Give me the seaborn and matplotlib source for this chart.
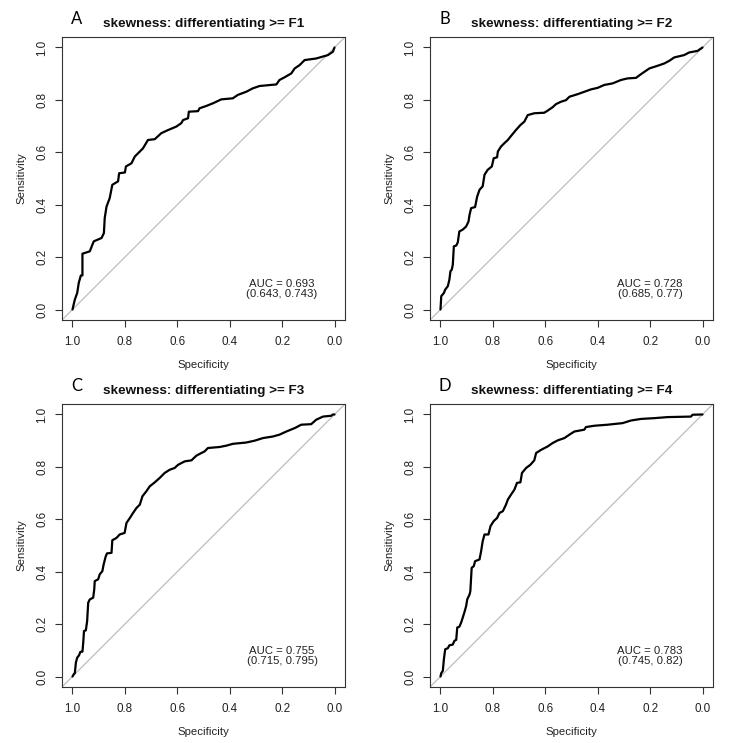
import matplotlib
matplotlib.use("Agg")
import matplotlib.pyplot as plt
import seaborn as sns
import pandas as pd

# ---------------- data ----------------
panel_letters = ["A", "B", "C", "D"]
panel_titles = ["skewness: differentiating >= F1",
                "skewness: differentiating >= F2",
                "skewness: differentiating >= F3",
                "skewness: differentiating >= F4"]
auc_text = ["AUC = 0.693\n(0.643, 0.743)",
            "AUC = 0.728\n(0.685, 0.77)",
            "AUC = 0.755\n(0.715, 0.795)",
            "AUC = 0.783\n(0.745, 0.82)"]

spec_A = [1.000, 0.991, 0.982, 0.976, 0.968, 0.962, 0.962, 0.934, 0.919, 0.889,
          0.880, 0.877, 0.870, 0.858, 0.848, 0.826, 0.822, 0.800, 0.796, 0.775,
          0.762, 0.746, 0.731, 0.712, 0.686, 0.661, 0.635, 0.604, 0.585, 0.578,
          0.559, 0.556, 0.521, 0.515, 0.489, 0.464, 0.432, 0.388, 0.369, 0.337,
          0.312, 0.286, 0.222, 0.210, 0.191, 0.165, 0.152, 0.133, 0.114, 0.070,
          0.025, 0.006, 0.000]
sens_A = [0.000, 0.038, 0.063, 0.102, 0.130, 0.130, 0.213, 0.222, 0.260, 0.273,
          0.292, 0.349, 0.393, 0.425, 0.476, 0.489, 0.520, 0.523, 0.546, 0.558,
          0.584, 0.600, 0.615, 0.647, 0.650, 0.673, 0.685, 0.698, 0.711, 0.723,
          0.730, 0.755, 0.757, 0.768, 0.777, 0.787, 0.802, 0.806, 0.819, 0.831,
          0.844, 0.853, 0.859, 0.876, 0.886, 0.901, 0.920, 0.933, 0.952, 0.958,
          0.971, 0.984, 1.000]

spec_B = [1.000, 0.997, 0.987, 0.982, 0.972, 0.966, 0.962, 0.957, 0.953, 0.949,
          0.940, 0.934, 0.928, 0.915, 0.902, 0.893, 0.889, 0.883, 0.868, 0.860,
          0.851, 0.839, 0.832, 0.820, 0.804, 0.797, 0.784, 0.781, 0.769, 0.756,
          0.743, 0.731, 0.712, 0.695, 0.680, 0.667, 0.642, 0.604, 0.591, 0.572,
          0.559, 0.540, 0.521, 0.508, 0.476, 0.451, 0.426, 0.400, 0.375, 0.343,
          0.311, 0.286, 0.254, 0.235, 0.203, 0.172, 0.146, 0.127, 0.108, 0.070,
          0.051, 0.019, 0.000]
sens_B = [0.000, 0.051, 0.063, 0.076, 0.089, 0.114, 0.146, 0.152, 0.171, 0.241,
          0.244, 0.256, 0.298, 0.305, 0.317, 0.336, 0.362, 0.387, 0.391, 0.431,
          0.457, 0.470, 0.514, 0.533, 0.546, 0.577, 0.581, 0.603, 0.622, 0.635,
          0.647, 0.662, 0.685, 0.704, 0.717, 0.742, 0.749, 0.751, 0.759, 0.772,
          0.784, 0.793, 0.799, 0.812, 0.822, 0.831, 0.840, 0.846, 0.857, 0.863,
          0.876, 0.882, 0.884, 0.898, 0.920, 0.930, 0.939, 0.949, 0.962, 0.971,
          0.981, 0.987, 1.000]

spec_C = [1.000, 0.995, 0.991, 0.987, 0.982, 0.975, 0.970, 0.962, 0.959, 0.956,
          0.949, 0.944, 0.940, 0.934, 0.921, 0.917, 0.915, 0.902, 0.896, 0.886,
          0.881, 0.873, 0.868, 0.851, 0.848, 0.832, 0.820, 0.801, 0.794, 0.781,
          0.769, 0.756, 0.743, 0.733, 0.718, 0.705, 0.686, 0.667, 0.648, 0.629,
          0.610, 0.597, 0.572, 0.546, 0.527, 0.508, 0.496, 0.483, 0.438, 0.413,
          0.388, 0.337, 0.305, 0.273, 0.235, 0.210, 0.184, 0.152, 0.127, 0.089,
          0.070, 0.044, 0.013, 0.006, 0.000]
sens_C = [0.000, 0.009, 0.013, 0.053, 0.072, 0.081, 0.094, 0.095, 0.129, 0.174,
          0.176, 0.212, 0.282, 0.294, 0.301, 0.332, 0.364, 0.371, 0.390, 0.402,
          0.428, 0.459, 0.470, 0.472, 0.520, 0.529, 0.542, 0.548, 0.586, 0.605,
          0.624, 0.643, 0.656, 0.688, 0.707, 0.726, 0.741, 0.758, 0.777, 0.789,
          0.796, 0.808, 0.821, 0.825, 0.843, 0.853, 0.859, 0.872, 0.876, 0.881,
          0.888, 0.893, 0.900, 0.910, 0.916, 0.923, 0.935, 0.948, 0.961, 0.963,
          0.980, 0.992, 0.995, 1.000, 1.000]

spec_D = [1.000, 0.997, 0.991, 0.987, 0.982, 0.972, 0.966, 0.953, 0.947, 0.940,
          0.936, 0.928, 0.921, 0.915, 0.909, 0.902, 0.898, 0.889, 0.886, 0.881,
          0.873, 0.868, 0.851, 0.845, 0.839, 0.832, 0.817, 0.809, 0.797, 0.784,
          0.775, 0.762, 0.750, 0.743, 0.731, 0.718, 0.708, 0.695, 0.689, 0.673,
          0.657, 0.642, 0.635, 0.616, 0.591, 0.572, 0.553, 0.527, 0.508, 0.489,
          0.451, 0.445, 0.413, 0.362, 0.305, 0.273, 0.235, 0.184, 0.133, 0.044,
          0.038, 0.000]
sens_D = [0.000, 0.013, 0.022, 0.066, 0.104, 0.108, 0.119, 0.122, 0.136, 0.140,
          0.187, 0.190, 0.206, 0.225, 0.244, 0.269, 0.294, 0.313, 0.326, 0.415,
          0.421, 0.440, 0.447, 0.478, 0.516, 0.542, 0.542, 0.574, 0.593, 0.605,
          0.624, 0.631, 0.656, 0.675, 0.694, 0.713, 0.739, 0.741, 0.777, 0.796,
          0.808, 0.825, 0.853, 0.865, 0.878, 0.891, 0.901, 0.910, 0.923, 0.935,
          0.942, 0.952, 0.957, 0.961, 0.967, 0.977, 0.983, 0.986, 0.990, 0.992,
          0.999, 1.000]

specs = [spec_A, spec_B, spec_C, spec_D]
senss = [sens_A, sens_B, sens_C, sens_D]
x_ticks = [1.0, 0.8, 0.6, 0.4, 0.2, 0.0]
y_ticks = [0.0, 0.2, 0.4, 0.6, 0.8, 1.0]
x_tick_labels = ["1.0", "0.8", "0.6", "0.4", "0.2", "0.0"]
y_tick_labels = ["0.0", "0.2", "0.4", "0.6", "0.8", "1.0"]

# ---------------- style ----------------
sns.set_style("ticks")
plt.rcParams['font.family'] = ['Liberation Sans', 'DejaVu Sans']

W, H = 737, 743
fig = plt.figure(figsize=(W / 100, H / 100), dpi=100)

# axes boxes in pixels: (left, top, right, bottom)
boxes = [(62, 37, 345, 320), (430, 37, 713, 320),
         (62, 404, 345, 687), (430, 404, 713, 687)]

edge = "#333333"
for i, (l, t, r, b) in enumerate(boxes):
    ax = fig.add_axes([l / W, 1 - b / H, (r - l) / W, (b - t) / H])
    df = pd.DataFrame({"Specificity": specs[i], "Sensitivity": senss[i]})
    ax.axline((1.0, 0.0), (0.0, 1.0), color="#BDBDBD", lw=0.9, zorder=1)
    sns.lineplot(data=df, x="Specificity", y="Sensitivity", sort=False,
                 estimator=None, color="black", lw=1.6, ax=ax, zorder=3)
    ax.set_xlim(1.04, -0.04)
    ax.set_ylim(-0.04, 1.04)
    ax.set_xticks(x_ticks)
    ax.set_xticklabels(x_tick_labels)
    ax.set_yticks(y_ticks)
    ax.set_yticklabels(y_tick_labels, rotation=90, va="center")
    ax.tick_params(axis="both", direction="out", length=5, width=0.8,
                   color=edge, labelsize=8.4, labelcolor="#222222")
    ax.tick_params(axis="x", pad=6.5)
    ax.tick_params(axis="y", pad=5)
    for s in ax.spines.values():
        s.set_visible(True)
        s.set_color(edge)
        s.set_linewidth(0.8)
    ax.set_xlabel("Specificity", fontsize=8.2, color="#222222", labelpad=8.5)
    ax.set_ylabel("Sensitivity", fontsize=8.2, color="#222222", labelpad=7)
    ax.set_title(panel_titles[i], fontsize=9.7, fontweight="bold",
                 color="#111111", pad=7)
    ax.text(0.053, 1.046, panel_letters[i], transform=ax.transAxes,
            fontsize=12, family=["Lato", "DejaVu Sans"], ha="center",
            va="baseline", color="black")
    ax.text(0.20, 0.08, auc_text[i], fontsize=8.2, ha="center", va="center",
            color="#222222", linespacing=1.0)

fig.savefig("out.png", dpi=100)
